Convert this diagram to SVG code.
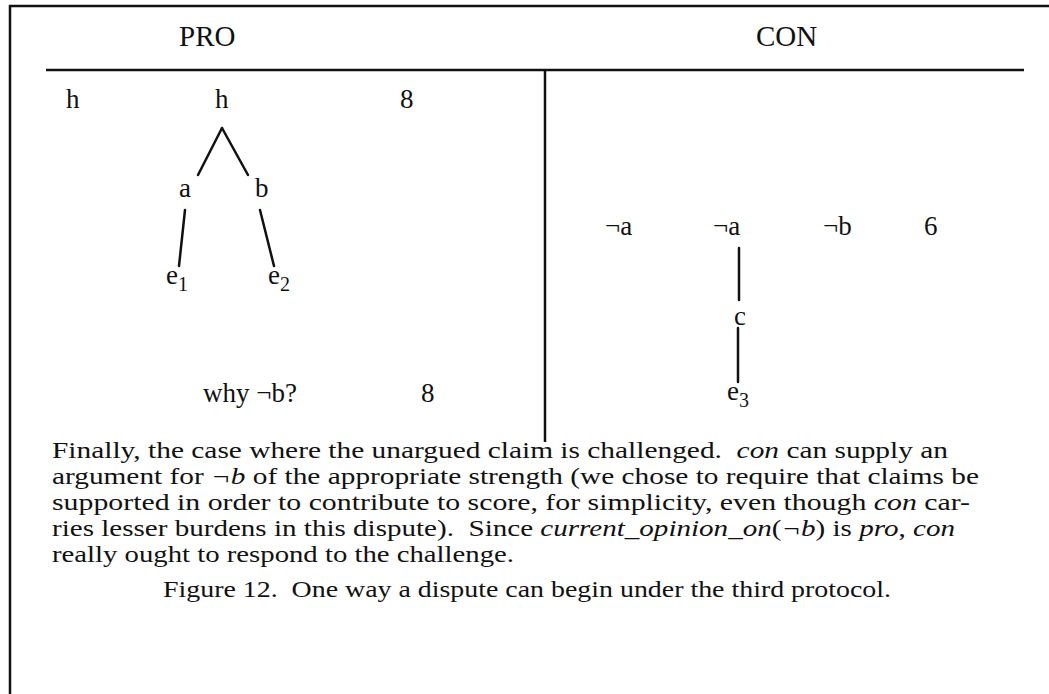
<svg xmlns="http://www.w3.org/2000/svg" width="1049" height="694" viewBox="0 0 1049 694">
<style>
text{font-family:"Liberation Serif","Times New Roman",serif;font-size:27px;fill:#111;white-space:pre}
.hd{font-size:29px}
.it{font-style:italic}
.sub{font-size:20px}
.p{font-size:23px}
.ln{stroke:#111;stroke-width:2.5;fill:none;stroke-linecap:round}
.fr{stroke:#111;stroke-width:2.5;fill:none}
</style>
<rect width="1049" height="694" fill="#fff"/>
<g id="frame">
<line class="fr" x1="10" y1="5" x2="10" y2="694"/>
<line class="fr" x1="9" y1="6" x2="1049" y2="6"/>
<line class="fr" x1="46" y1="70" x2="1024" y2="70"/>
<line class="fr" x1="545" y1="70" x2="545" y2="442"/>
</g>
<g id="headers">
<text class="hd" x="179" y="46">PRO</text>
<text class="hd" x="756" y="46">CON</text>
</g>
<g id="pro-row">
<text x="66" y="108">h</text>
<text x="400" y="108">8</text>
</g>
<g id="node-h"><text x="215" y="108">h</text></g>
<g id="node-a"><text x="179" y="197">a</text></g>
<g id="node-b"><text x="255" y="197">b</text></g>
<g id="node-e1"><text x="166" y="284">e<tspan class="sub" dy="7">1</tspan></text></g>
<g id="node-e2"><text x="268" y="284">e<tspan class="sub" dy="7">2</tspan></text></g>
<g id="why"><text x="203" y="402">why ¬b?</text><text x="421" y="402">8</text></g>
<g id="con-row">
<text x="605" y="235">¬a</text>
<text x="823" y="235">¬b</text>
<text x="924" y="235">6</text>
</g>
<g id="node-na"><text x="713" y="235">¬a</text></g>
<g id="node-c"><text x="734" y="325">c</text></g>
<g id="node-e3"><text x="727" y="400">e<tspan class="sub" dy="7">3</tspan></text></g>
<g id="connectors">
<line class="ln" x1="222" y1="128" x2="198" y2="175"/>
<line class="ln" x1="222" y1="128" x2="248" y2="175"/>
<line class="ln" x1="185" y1="210" x2="179" y2="266"/>
<line class="ln" x1="260" y1="210" x2="274" y2="266"/>
<line class="ln" x1="739" y1="248" x2="739" y2="300"/>
<line class="ln" x1="738" y1="328" x2="738" y2="382"/>
</g>
<g id="paragraph">
<text class="p" x="52" y="458" textLength="896" lengthAdjust="spacingAndGlyphs">Finally, the case where the unargued claim is challenged.  <tspan class="it">con</tspan> can supply an</text>
<text class="p" x="52" y="484" textLength="927" lengthAdjust="spacingAndGlyphs">argument for <tspan class="it">¬b</tspan> of the appropriate strength (we chose to require that claims be</text>
<text class="p" x="52" y="510" textLength="918" lengthAdjust="spacingAndGlyphs">supported in order to contribute to score, for simplicity, even though <tspan class="it">con</tspan> car-</text>
<text class="p" x="52" y="536" textLength="903" lengthAdjust="spacingAndGlyphs">ries lesser burdens in this dispute).  Since <tspan class="it">current_opinion_on</tspan>(<tspan class="it">¬b</tspan>) is <tspan class="it">pro</tspan>, <tspan class="it">con</tspan></text>
<text class="p" x="52" y="562" textLength="462" lengthAdjust="spacingAndGlyphs">really ought to respond to the challenge.</text>
<text class="p" x="163" y="597" textLength="728" lengthAdjust="spacingAndGlyphs">Figure 12.  One way a dispute can begin under the third protocol.</text>
</g>
</svg>
